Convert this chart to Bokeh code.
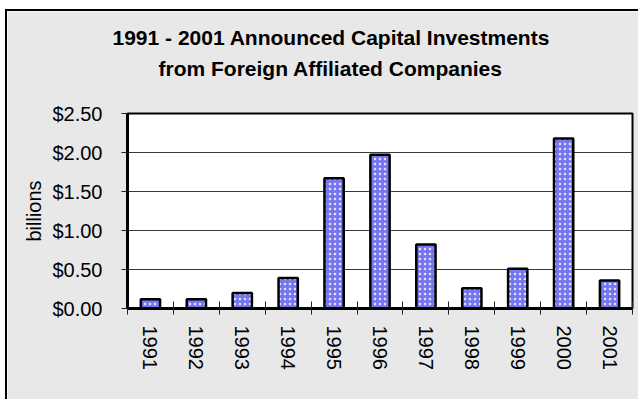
from bokeh.plotting import figure
from bokeh.models import (Range1d, FixedTicker, NumeralTickFormatter, Title)
from bokeh.embed import file_html
from bokeh.resources import INLINE

years = ["1991", "1992", "1993", "1994", "1995", "1996", "1997", "1998", "1999", "2000", "2001"]
investments = [0.12, 0.12, 0.20, 0.39, 1.67, 1.97, 0.82, 0.26, 0.51, 2.18, 0.36]
y_ticks = [0.0, 0.5, 1.0, 1.5, 2.0, 2.5]
title_lines = ["1991 - 2001 Announced Capital Investments", "from Foreign Affiliated Companies"]
y_label = "billions"

centers = [i + 0.5 for i in range(len(years))]
bounds = [float(i) for i in range(len(years) + 1)]

BG = "#e8e8e8"

p = figure(width=633, height=390, output_backend="svg", toolbar_location=None,
           x_range=Range1d(0, len(years)), y_range=Range1d(0, 2.5),
           min_border_left=120, min_border_right=8, min_border_top=102, min_border_bottom=93,
           background_fill_color="white", border_fill_color=BG,
           outline_line_color="black", outline_line_width=2,
           styles={"margin-left": "5px", "margin-top": "9px",
                   "border-left": "2px solid black", "border-top": "2px solid black"})

p.vbar(x=centers, top=investments, width=0.42, fill_color="#7676f0",
       line_color="black", line_width=2.5,
       hatch_pattern="dot", hatch_color="white", hatch_scale=5, hatch_weight=1.5, hatch_alpha=0.8)

p.xgrid.visible = False
p.ygrid.grid_line_color = "#3a3a3a"
p.ygrid.grid_line_width = 1
p.ygrid.ticker = FixedTicker(ticks=y_ticks)

xa = p.xaxis[0]
xa.ticker = FixedTicker(ticks=centers, minor_ticks=bounds)
xa.major_label_overrides = {c: y for c, y in zip(centers, years)}
xa.major_label_orientation = "vertical"
xa.major_tick_in = 0
xa.major_tick_out = 0
xa.minor_tick_in = 7
xa.minor_tick_out = 6
xa.minor_tick_line_color = "#222222"
xa.minor_tick_line_width = 1
xa.axis_line_width = 3
xa.axis_line_color = "black"
xa.major_label_standoff = 11
xa.major_label_text_font = "Liberation Sans"
xa.major_label_text_font_size = "20px"
xa.major_label_text_color = "black"

ya = p.yaxis[0]
ya.ticker = FixedTicker(ticks=y_ticks)
ya.formatter = NumeralTickFormatter(format="$0.00")
ya.major_tick_in = 0
ya.major_tick_out = 6
ya.minor_tick_line_color = None
ya.axis_line_width = 3
ya.axis_line_color = "black"
ya.major_tick_line_color = "#222222"
ya.major_label_standoff = 19
ya.major_label_text_font = "Liberation Sans"
ya.major_label_text_font_size = "20px"
ya.major_label_text_color = "black"
ya.axis_label = y_label
ya.axis_label_text_font = "Liberation Sans"
ya.axis_label_text_font_size = "20px"
ya.axis_label_text_font_style = "normal"
ya.axis_label_text_color = "black"
ya.axis_label_standoff = 4

# line nearest the frame carries a trailing empty line as spacing below it
p.add_layout(Title(text=title_lines[1] + "\n", align="left", offset=31,
                   text_font="Liberation Sans", text_font_style="bold",
                   text_font_size="21px", text_color="black", standoff=8,
                   text_line_height=1.3), "above")
p.add_layout(Title(text=title_lines[0], align="left", offset=-15,
                   text_font="Liberation Sans", text_font_style="bold",
                   text_font_size="21px", text_color="black", standoff=4), "above")

open("out.html", "w").write(file_html(p, INLINE))
